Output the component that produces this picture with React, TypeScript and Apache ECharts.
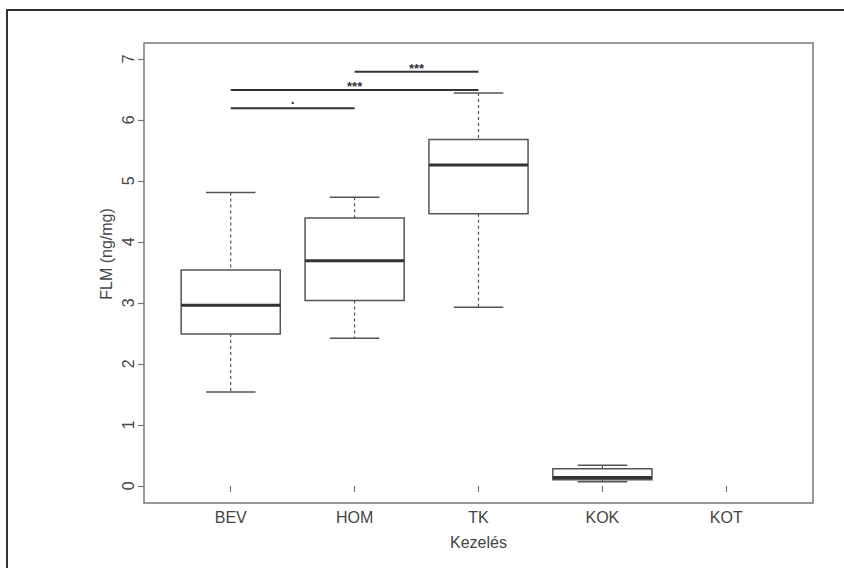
import React, { useEffect, useRef } from 'react';
import * as echarts from 'echarts';

const categories = ['BEV', 'HOM', 'TK', 'KOK', 'KOT'];
const whiskerLow: (number | null)[] = [1.54, 2.42, 2.93, 0.07, null];
const quartile1: (number | null)[] = [2.49, 3.04, 4.46, 0.1, null];
const medians: (number | null)[] = [2.96, 3.69, 5.26, 0.14, null];
const quartile3: (number | null)[] = [3.54, 4.39, 5.68, 0.28, null];
const whiskerHigh: (number | null)[] = [4.81, 4.73, 6.44, 0.34, null];
const yTicks = [0, 1, 2, 3, 4, 5, 6, 7];

const sigFrom = ['HOM', 'BEV', 'BEV'];
const sigTo = ['TK', 'TK', 'HOM'];
const sigHeight = [6.79, 6.49, 6.19];
const sigLabel = ['***', '***', '.'];

const FONT = '"Liberation Sans", Arial, sans-serif';
const LINE = '#555';
const TEXT = '#444';

export default function App() {
  const ref = useRef<HTMLDivElement>(null);
  useEffect(() => {
    if (!ref.current) return;
    const chart = echarts.init(ref.current, undefined, { renderer: 'svg' });
    const xPositions = categories.map((_, i) => i + 1);
    const boxData = categories
      .map((_, i) =>
        medians[i] == null
          ? null
          : [i + 1, whiskerLow[i], quartile1[i], medians[i], quartile3[i], whiskerHigh[i]]
      )
      .filter((d) => d != null);
    const sigData = sigFrom.map((f, i) => [
      categories.indexOf(f) + 1,
      categories.indexOf(sigTo[i]) + 1,
      sigHeight[i],
    ]);

    const option: any = {
      animation: false,
      backgroundColor: '#fff',
      grid: {
        left: 144,
        top: 43,
        width: 669,
        height: 460,
        show: true,
        borderColor: '#777',
        borderWidth: 1.5,
        backgroundColor: 'transparent',
      },
      xAxis: {
        type: 'value',
        min: 0.3,
        max: 5.7,
        name: 'Kezelés',
        nameLocation: 'middle',
        nameGap: 31,
        nameTextStyle: { fontSize: 16, color: TEXT, fontFamily: FONT },
        axisLine: { show: false },
        splitLine: { show: false },
        axisTick: {
          show: true,
          customValues: xPositions,
          length: 6,
          lineStyle: { color: '#777', width: 1.2 },
        },
        axisLabel: {
          customValues: xPositions,
          formatter: (v: number) => categories[Math.round(v) - 1] ?? '',
          fontSize: 16,
          color: TEXT,
          fontFamily: FONT,
          margin: 6,
        },
      },
      yAxis: {
        type: 'value',
        min: -0.28,
        max: 7.26,
        axisLine: { show: false },
        splitLine: { show: false },
        axisTick: {
          show: true,
          customValues: yTicks,
          length: 6,
          lineStyle: { color: '#777', width: 1.2 },
        },
        axisLabel: {
          customValues: yTicks,
          rotate: 90,
          fontSize: 16,
          color: TEXT,
          fontFamily: FONT,
          margin: 8,
        },
      },
      graphic: [
        {
          type: 'rect',
          shape: { x: 7, y: 10, width: 900, height: 700 },
          style: { fill: 'none', stroke: '#333', lineWidth: 2 },
          silent: true,
        },
        {
          type: 'text',
          x: 106,
          y: 254,
          rotation: Math.PI / 2,
          style: {
            text: 'FLM (ng/mg)',
            align: 'center',
            verticalAlign: 'middle',
            fontSize: 16,
            fill: TEXT,
            fontFamily: FONT,
          },
        },
      ],
      series: [
        {
          type: 'custom',
          data: boxData,
          encode: { x: 0, y: [1, 2, 3, 4, 5] },
          renderItem: (params: any, api: any) => {
            const x = api.value(0);
            const [cx, yLo] = api.coord([x, api.value(1)]);
            const yQ1 = api.coord([x, api.value(2)])[1];
            const yMd = api.coord([x, api.value(3)])[1];
            const yQ3 = api.coord([x, api.value(4)])[1];
            const yHi = api.coord([x, api.value(5)])[1];
            const half = api.size([0.4, 0])[0];
            const cap = api.size([0.2, 0])[0];
            const dashed = { stroke: LINE, lineWidth: 1.2, lineDash: [3, 3] };
            const solid = { stroke: LINE, lineWidth: 1.5 };
            return {
              type: 'group',
              children: [
                { type: 'line', shape: { x1: cx, y1: yHi, x2: cx, y2: yQ3 }, style: dashed },
                { type: 'line', shape: { x1: cx, y1: yQ1, x2: cx, y2: yLo }, style: dashed },
                { type: 'line', shape: { x1: cx - cap, y1: yHi, x2: cx + cap, y2: yHi }, style: solid },
                { type: 'line', shape: { x1: cx - cap, y1: yLo, x2: cx + cap, y2: yLo }, style: solid },
                {
                  type: 'rect',
                  shape: { x: cx - half, y: yQ3, width: half * 2, height: yQ1 - yQ3 },
                  style: { fill: '#fff', stroke: LINE, lineWidth: 1.5 },
                },
                {
                  type: 'line',
                  shape: { x1: cx - half, y1: yMd, x2: cx + half, y2: yMd },
                  style: { stroke: '#333', lineWidth: 3 },
                },
              ],
            };
          },
        },
        {
          type: 'custom',
          data: sigData,
          encode: { x: [0, 1], y: 2 },
          renderItem: (params: any, api: any) => {
            const [x1, y] = api.coord([api.value(0), api.value(2)]);
            const x2 = api.coord([api.value(1), api.value(2)])[0];
            const label = sigLabel[params.dataIndex];
            const isDot = label === '.';
            return {
              type: 'group',
              children: [
                {
                  type: 'line',
                  shape: { x1, y1: y, x2, y2: y },
                  style: { stroke: '#333', lineWidth: 2 },
                },
                {
                  type: 'text',
                  x: (x1 + x2) / 2,
                  y: isDot ? y - 9 : y - 3,
                  style: {
                    text: label,
                    align: 'center',
                    verticalAlign: 'middle',
                    fontSize: isDot ? 14 : 13,
                    fontWeight: 'bold',
                    fill: '#333',
                    fontFamily: FONT,
                  },
                },
              ],
            };
          },
        },
      ],
    };
    chart.setOption(option);
    return () => chart.dispose();
  }, []);
  return (
    <div
      ref={ref}
      style={{ position: 'absolute', left: 0, top: 0, width: 844, height: 568, background: '#fff' }}
    />
  );
}
